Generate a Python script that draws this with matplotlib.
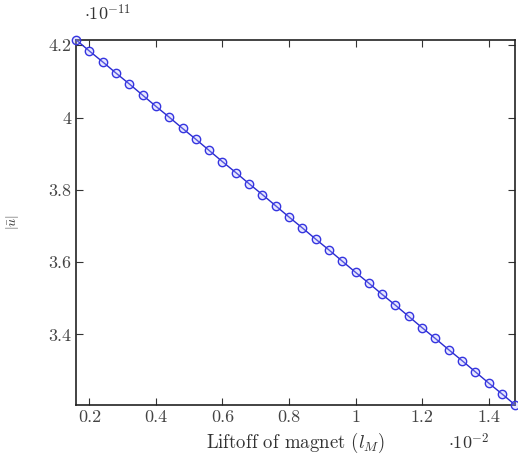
import numpy as np
import matplotlib
matplotlib.use("Agg")
import matplotlib.pyplot as plt

# liftoff (x 1e-2) and |u| (x 1e-11)
liftoff = [0.16, 0.20, 0.24, 0.28, 0.32, 0.36, 0.40, 0.44, 0.48, 0.52,
           0.56, 0.60, 0.64, 0.68, 0.72, 0.76, 0.80, 0.84, 0.88, 0.92,
           0.96, 1.00, 1.04, 1.08, 1.12, 1.16, 1.20, 1.24, 1.28, 1.32,
           1.36, 1.40, 1.44, 1.48]
u_abs = [4.215, 4.184, 4.154, 4.123, 4.093, 4.062, 4.031, 4.001, 3.970, 3.940,
         3.909, 3.878, 3.848, 3.817, 3.787, 3.756, 3.725, 3.695, 3.664, 3.634,
         3.603, 3.572, 3.542, 3.511, 3.481, 3.450, 3.419, 3.389, 3.358, 3.328,
         3.297, 3.266, 3.236, 3.205]
xticks = [0.2, 0.4, 0.6, 0.8, 1.0, 1.2, 1.4]
yticks = [3.4, 3.6, 3.8, 4.0, 4.2]

plt.rcParams['font.family'] = 'serif'
plt.rcParams['font.serif'] = ['cmr10', 'DejaVu Serif']
plt.rcParams['mathtext.fontset'] = 'cm'
plt.rcParams['axes.unicode_minus'] = False

fig = plt.figure(figsize=(5.18, 4.61), dpi=100)
ax = fig.add_axes([0.147, 0.1215, 0.8475, 0.792])

ax.plot(liftoff, u_abs, color='#2a2ad0', lw=1.0, marker='o', ms=6,
        mfc=(0.7, 0.7, 1.0, 0.3), mec='#3535e0', mew=1.0, clip_on=False, zorder=3)

ax.set_xlim(liftoff[0], liftoff[-1])
ax.set_ylim(u_abs[-1], u_abs[0])
ax.set_xticks(xticks)
ax.set_xticklabels(['%g' % t for t in xticks])
ax.set_yticks(yticks)
ax.set_yticklabels(['%g' % t for t in yticks])
ax.tick_params(direction='in', length=5, width=0.8, top=True, right=True,
               labelsize=13, colors='#333333', labelcolor='#444444')
for s in ax.spines.values():
    s.set_linewidth(1.2)
    s.set_color('#222222')

ax.set_xlabel('Liftoff of magnet ($l_M$)', fontsize=13.5, color='#333333', labelpad=4)
ax.set_ylabel('$|\\bar{u}|$', fontsize=10, color='#333333', labelpad=20)

fig.text(0.162, 0.955, '$\\cdot 10^{-11}$', fontsize=13, color='#333333')
fig.text(0.865, 0.025, '$\\cdot 10^{-2}$', fontsize=13, color='#333333')

fig.savefig('out.png', dpi=100)
